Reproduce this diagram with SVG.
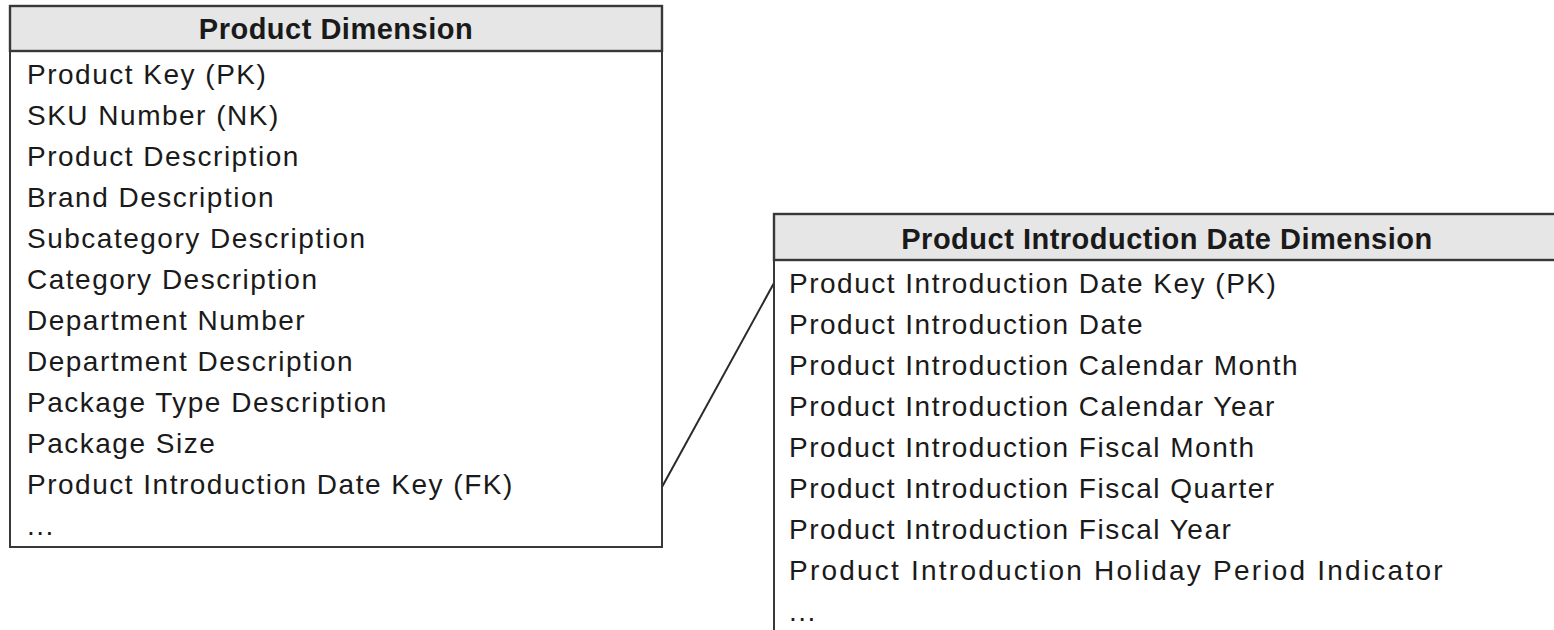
<svg xmlns="http://www.w3.org/2000/svg" width="1554" height="630" viewBox="0 0 1554 630">
  <style>
    .box { fill: #ffffff; stroke: #383838; stroke-width: 2; }
    .head { fill: #e6e6e6; stroke: #383838; stroke-width: 2.4; }
    .title { font-family: "Liberation Sans", Arial, sans-serif; font-size: 29px; font-weight: bold; fill: #1a1a1a; text-anchor: middle; letter-spacing: 0.5px; }
    .attr { font-family: "Liberation Sans", Arial, sans-serif; font-size: 28px; fill: #1a1a1a; letter-spacing: 1.5px; }
    .link { fill: none; stroke: #2a2a2a; stroke-width: 2; }
  </style>
  <rect width="1554" height="630" fill="#ffffff"/>

  <g id="connectors">
    <line class="link" x1="662" y1="487" x2="774" y2="283"/>
  </g>

  <g id="product-dimension">
    <rect class="box" x="10" y="6" width="652" height="541"/>
    <rect class="head" x="10" y="6" width="652" height="45"/>
    <text class="title" x="336" y="39">Product Dimension</text>
    <text class="attr" x="27" y="84">Product Key (PK)</text>
    <text class="attr" x="27" y="125">SKU Number (NK)</text>
    <text class="attr" x="27" y="166">Product Description</text>
    <text class="attr" x="27" y="207">Brand Description</text>
    <text class="attr" x="27" y="248">Subcategory Description</text>
    <text class="attr" x="27" y="289">Category Description</text>
    <text class="attr" x="27" y="330">Department Number</text>
    <text class="attr" x="27" y="371">Department Description</text>
    <text class="attr" x="27" y="412">Package Type Description</text>
    <text class="attr" x="27" y="453">Package Size</text>
    <text class="attr" x="27" y="494">Product Introduction Date Key (FK)</text>
    <text class="attr" x="27" y="535">...</text>
  </g>

  <g id="product-introduction-date-dimension">
    <rect class="box" x="774" y="214" width="790" height="430"/>
    <rect class="head" x="774" y="214" width="790" height="46"/>
    <text class="title" x="1167" y="249">Product Introduction Date Dimension</text>
    <text class="attr" x="789" y="293">Product Introduction Date Key (PK)</text>
    <text class="attr" x="789" y="334">Product Introduction Date</text>
    <text class="attr" x="789" y="375">Product Introduction Calendar Month</text>
    <text class="attr" x="789" y="416">Product Introduction Calendar Year</text>
    <text class="attr" x="789" y="457">Product Introduction Fiscal Month</text>
    <text class="attr" x="789" y="498">Product Introduction Fiscal Quarter</text>
    <text class="attr" x="789" y="539">Product Introduction Fiscal Year</text>
    <text class="attr" x="789" y="580" textLength="655" lengthAdjust="spacing">Product Introduction Holiday Period Indicator</text>
    <text class="attr" x="789" y="621">...</text>
  </g>
</svg>
